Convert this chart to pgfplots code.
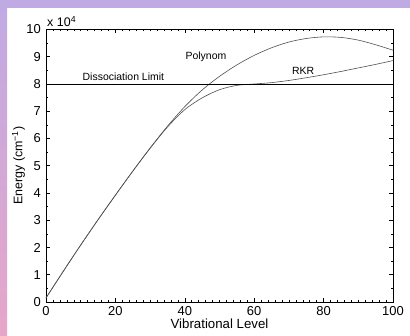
\documentclass[border=0pt]{standalone}
\usepackage{fontspec}
\setmainfont{Liberation Sans}
\usepackage{pgfplots}
\pgfplotsset{compat=1.18}
\definecolor{lav}{RGB}{192,170,228}
\definecolor{pinkb}{RGB}{230,166,200}
\definecolor{curve}{RGB}{80,80,80}
\begin{document}
\begin{tikzpicture}
\path[use as bounding box] (0,0) rectangle (410bp,336bp);
\fill[white] (0,0) rectangle (410bp,336bp);
\shade[top color=lav, bottom color=pinkb] (0,0) rectangle (7bp,336bp);
\fill[lav] (0,328bp) rectangle (410bp,336bp);
\begin{axis}[
  scale only axis, width=347bp, height=272.5bp,
  at={(46bp,34bp)}, anchor=south west,
  xmin=0, xmax=100, ymin=0, ymax=100000,
  xtick={0,20,...,100}, ytick={0,10000,...,100000},
  yticklabels={0,1,2,3,4,5,6,7,8,9,10},
  scaled y ticks=false,
  minor x tick num=9, minor y tick num=1,
  tick align=inside, major tick length=4bp, minor tick length=2bp,
  /pgf/number format/assume math mode=true,
  tick label style={font=\fontsize{13}{15}\selectfont},
  label style={font=\fontsize{12.5}{14}\selectfont},
  xticklabel style={anchor=north, inner sep=0pt, yshift=-4.5bp},
  yticklabel style={anchor=east, inner sep=0pt, xshift=-5bp},
  xlabel={Vibrational Level}, ylabel={Energy (cm\textsuperscript{−1})},
  xlabel style={at={(axis description cs:0.5,-0.0807)}, anchor=center, font=\fontsize{13.3}{15}\selectfont},
  ylabel style={at={(axis description cs:-0.079,0.5)}, anchor=center, rotate=0},
  axis line style={black, line width=0.5bp},
  tick style={black, line width=0.5bp},
  clip=false,
]
\addplot[curve, line width=0.6bp, smooth] coordinates {
(0,1500) (5,11300) (10,20900) (15,30200) (20,39200) (25,48000) (30,56500)
(35,64500) (40,71700) (45,77800) (50,82800) (55,87000) (60,90500) (65,93300)
(70,95400) (75,96700) (80,97300) (85,97100) (90,96100) (95,94400) (100,92400)};
\addplot[curve, line width=0.6bp, smooth] coordinates {
(0,1500) (5,11300) (10,20900) (15,30200) (20,39200) (25,48000) (30,56400)
(35,64200) (40,70600) (45,74900) (50,77900) (55,79500) (60,80000) (65,80500)
(70,81300) (75,82300) (80,83400) (85,84600) (90,85900) (95,87200) (100,88600)};
\addplot[black, line width=0.5bp] coordinates {(0,80000) (100,80000)};
\node[font=\fontsize{10.5}{12}\selectfont] at (axis cs:46.1,89900) {Polynom};
\node[font=\fontsize{10.5}{12}\selectfont] at (axis cs:22.3,82750) {Dissociation Limit};
\node[font=\fontsize{10.5}{12}\selectfont] at (axis cs:74.1,84800) {RKR};
\node[font=\fontsize{12.5}{14}\selectfont, anchor=south west, inner sep=0pt] at (rel axis cs:0.003,1.009) {x 10\textsuperscript{4}};
\end{axis}
\end{tikzpicture}
\end{document}
